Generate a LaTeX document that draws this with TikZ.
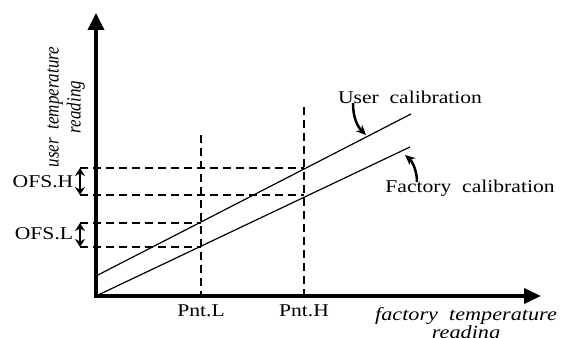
\documentclass[tikz,border=0pt]{standalone}
\usepackage{fontspec}
\setmainfont{Liberation Serif}[FakeStretch=1.2]
\newfontfamily\ylabfont{Liberation Serif}[FakeStretch=0.85]
\usetikzlibrary{arrows.meta, positioning}
\tikzset{
  >=latex,  % frecce di default
  % assi e rette
  axis/.style={line width=3.5pt,line join=miter,{Triangle[length=17pt,width=16pt]}-{Triangle[length=17pt,width=15pt]}},
  calib/.style={line width=1.2pt},
  guide/.style={line width=1.8pt,dash pattern=on 8pt off 5pt},
  % frecce
  ofs arrow/.style={line width=2.2pt,{Stealth[length=8pt,width=10pt]}-{Stealth[length=8pt,width=10pt]}},
  note arrow/.style={line width=2.5pt,-{Stealth[length=10pt,width=9pt]}},
  % testi
  lbl/.style={font=\fontsize{18}{20}\selectfont,inner sep=0pt},
  axis lbl/.style={font=\fontsize{18.5}{16}\selectfont\itshape,align=center,inner sep=0pt}
}

\begin{document}
\begin{tikzpicture}[x=1pt,y=-1pt]
        \useasboundingbox (0,0) rectangle (569,337);
        % punti principali
        \coordinate (ytop) at (96,13);
        \coordinate (O) at (96,296);
        \coordinate (xend) at (541,296);
        \coordinate (fend) at (410,147);
        \coordinate (ustart) at (96,276);
        \coordinate (uend) at (411,114);
        \coordinate (pL) at (201,296);
        \coordinate (pLtop) at (201,135);
        \coordinate (pH) at (304,296);
        \coordinate (pHtop) at (304,107);
        \coordinate (hH1) at (80,168); \coordinate (hH1e) at (304,168);
        \coordinate (hH2) at (80,195); \coordinate (hH2e) at (304,195);
        \coordinate (hL1) at (80,223); \coordinate (hL1e) at (201,223);
        \coordinate (hL2) at (80,247); \coordinate (hL2e) at (201,247);
        \coordinate (ua) at (353,103); \coordinate (ub) at (366,135);
        \coordinate (fa) at (417,182); \coordinate (fb) at (405,155);
        % linee tratteggiate
        \draw[guide] (pLtop)--(pL);
        \draw[guide] (pHtop)--(pH);
        \draw[guide] (hH1)--(hH1e);
        \draw[guide] (hH2)--(hH2e);
        \draw[guide] (hL1)--(hL1e);
        \draw[guide] (hL2)--(hL2e);
        % assi
        \draw[axis] (ytop)--(O)--(xend);
        % rette di calibrazione
        \draw[calib] (O)--(fend);
        \draw[calib] (ustart)--(uend);
        % offset
        \draw[ofs arrow] (hH1)--(hH2);
        \draw[ofs arrow] (hL1)--(hL2);
        \draw[note arrow] (ua) .. controls (353,117) and (357,126) .. (ub);
        \draw[note arrow] (fa) .. controls (417,172) and (413,162) .. (fb);
        % etichette
        \node[lbl] (ofsH) at (43,182) {OFS.H};
        \node[lbl] (ofsL) at (44,234) {OFS.L};
        \node[lbl] (pntL) at (201,311) {Pnt.L};
        \node[lbl] (pntH) at (304,311) {Pnt.H};
        \node[lbl] (user) at (410,97) {User\ \ calibration};
        \node[lbl] (fact) at (470,188) {Factory\ \ calibration};
        \node[axis lbl,font=\ylabfont\fontsize{20}{22}\selectfont\itshape,rotate=90] (ylab) at (66,107) {user\ \ temperature\\reading};
        \node[axis lbl] (xlab) at (466,325) {factory\ \ temperature\\reading};
      \end{tikzpicture}
\end{document}
